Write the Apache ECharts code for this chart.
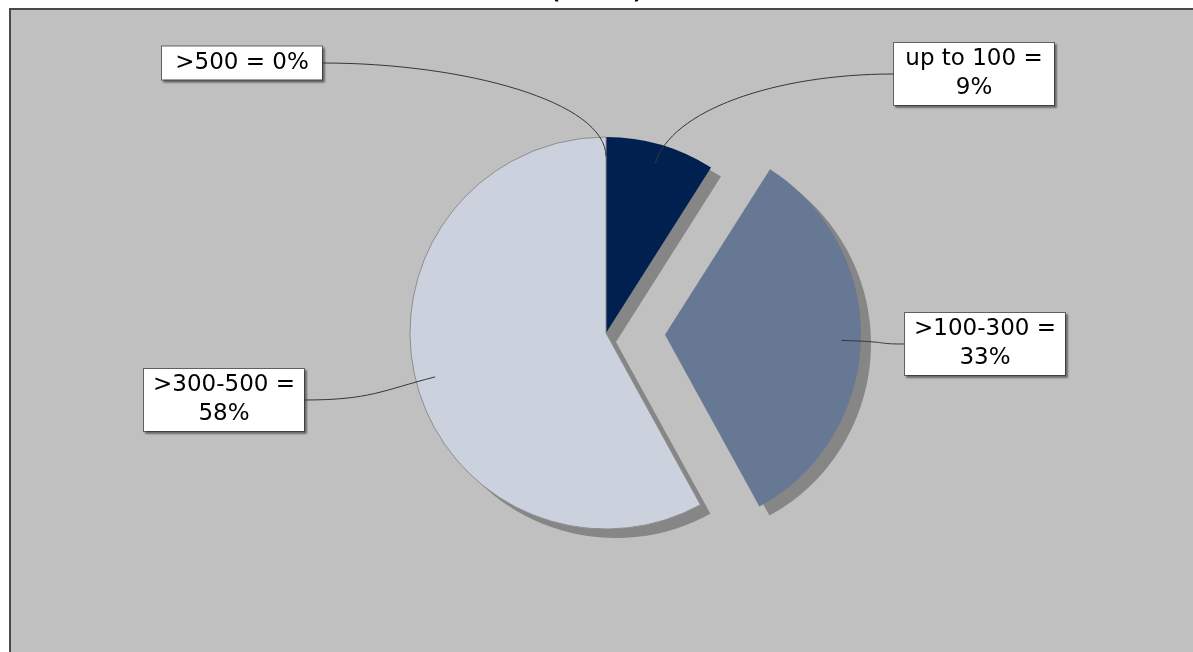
<!DOCTYPE html>
<html>
<head>
<meta charset="utf-8">
<script src="https://cdn.jsdelivr.net/npm/echarts@6/dist/echarts.min.js"></script>
<style>
html,body{margin:0;padding:0;background:#ffffff;}
#chart{width:1193px;height:652px;}
</style>
</head>
<body>
<div id="chart"></div>
<script>
// ---- data ----
const titleText = '(n = 45)';
const categories = ['up to 100', '>100-300', '>300-500', '>500'];
const percents = [9, 33, 58, 0];
const exploded = [false, true, false, false];

// ---- styles / layout ----
const sliceColors = ['#00214f', '#667893', '#cbd2dd', '#9a9a9a'];
const center = [606, 333];
const shadowCenter = [616, 342];
const R = 196;
const explodeOffset = 59;
const linkDepth = 0.9;          // label links start at 90% of the radius
const ctrlLen = 55;             // radial control length of the link curves
const labelPos = [[974, 74], [985, 344], [224, 400], [242, 63]];
const labelTextWidth = 142, labelPadX = 9;

const chart = echarts.init(document.getElementById('chart'), null, {renderer: 'canvas'});

const mainData = categories.map((c, i) => ({
  name: c, value: percents[i], selected: exploded[i],
  itemStyle: {
    color: sliceColors[i],
    borderColor: i === 2 ? '#8e8e8e' : sliceColors[i],
    borderWidth: i === 2 ? 1 : 0
  }
}));
const shadowData = categories.map((c, i) => ({
  name: c, value: percents[i], selected: exploded[i],
  itemStyle: {color: '#868686', borderWidth: 0}
}));
const labelData = categories.map((c, i) => ({
  name: c, value: percents[i],
  itemStyle: {color: 'rgba(0,0,0,0)', borderWidth: 0}
}));

const common = {
  type: 'pie',
  startAngle: 90,
  clockwise: true,
  selectedMode: 'multiple',
  selectedOffset: explodeOffset,
  avoidLabelOverlap: false,
  stillShowZeroSum: true,
  animation: false,
  silent: true,
  emphasis: {disabled: true, scale: false}
};

const frame = {
  id: 'frame', type: 'rect', z: -100, silent: true,
  shape: {x: 10, y: 9, width: 1260, height: 700},
  style: {fill: '#c0c0c0', stroke: '#4a4a4a', lineWidth: 2}
};

chart.setOption({
  backgroundColor: '#ffffff',
  animation: false,
  title: {
    text: titleText,
    left: 'center',
    top: -21,
    textStyle: {fontFamily: 'DejaVu Sans', fontSize: 20, fontWeight: 'bold', color: '#000'}
  },
  graphic: [frame],
  series: [
    Object.assign({}, common, {
      name: 'shadow', z: 1,
      center: shadowCenter, radius: R,
      label: {show: false}, labelLine: {show: false},
      data: shadowData
    }),
    Object.assign({}, common, {
      name: 'main', z: 2,
      center: center, radius: R,
      label: {show: false}, labelLine: {show: false},
      data: mainData
    }),
    Object.assign({}, common, {
      name: 'labels', z: 4,
      selectedMode: false,
      center: center, radius: R,
      label: {
        show: true,
        position: 'outside',
        formatter: (p) => p.name + ' =' + (p.name.length > 5 ? '\n' : ' ') + Math.round(p.percent) + '%',
        fontFamily: 'DejaVu Sans',
        fontSize: 23,
        lineHeight: 29,
        color: '#000',
        width: labelTextWidth,
        overflow: 'none',
        align: 'center',
        backgroundColor: '#ffffff',
        borderColor: '#606060',
        borderWidth: 1,
        padding: [2, labelPadX, 2, labelPadX],
        shadowColor: 'rgba(0,0,0,0.35)',
        shadowBlur: 2,
        shadowOffsetX: 2,
        shadowOffsetY: 2
      },
      labelLine: {show: false},
      labelLayout: (params) => ({
        x: labelPos[params.dataIndex][0],
        y: labelPos[params.dataIndex][1],
        align: 'center',
        verticalAlign: 'middle',
        hideOverlap: false
      }),
      data: labelData
    })
  ]
});

// ---- label link curves, from the pie layout computed by ECharts ----
function buildLinks() {
  const data = chart.getModel().getSeriesByIndex(1).getData();
  const links = [];
  const halfBox = labelTextWidth / 2 + labelPadX + 0.5;
  data.each((i) => {
    const L = data.getItemLayout(i);
    const mid = (L.startAngle + L.endAngle) / 2;
    const ux = Math.cos(mid), uy = Math.sin(mid);
    const off = exploded[i] ? explodeOffset : 0;
    const ex = L.cx + ux * (L.r * linkDepth + off);
    const ey = L.cy + uy * (L.r * linkDepth + off);
    const lc = labelPos[i];
    const sx = ex < lc[0] ? lc[0] - halfBox : lc[0] + halfBox;
    const sy = lc[1];
    links.push({
      id: 'link' + i, type: 'bezierCurve', z: 100, silent: true,
      shape: {
        x1: sx, y1: sy,
        cpx1: sx + (ex - sx) * 0.5, cpy1: sy,
        cpx2: ex + ux * ctrlLen, cpy2: ey + uy * ctrlLen,
        x2: ex, y2: ey
      },
      style: {stroke: '#363636', lineWidth: 1, fill: null}
    });
  });
  chart.setOption({graphic: [frame].concat(links)});
}
buildLinks();
</script>
</body>
</html>
